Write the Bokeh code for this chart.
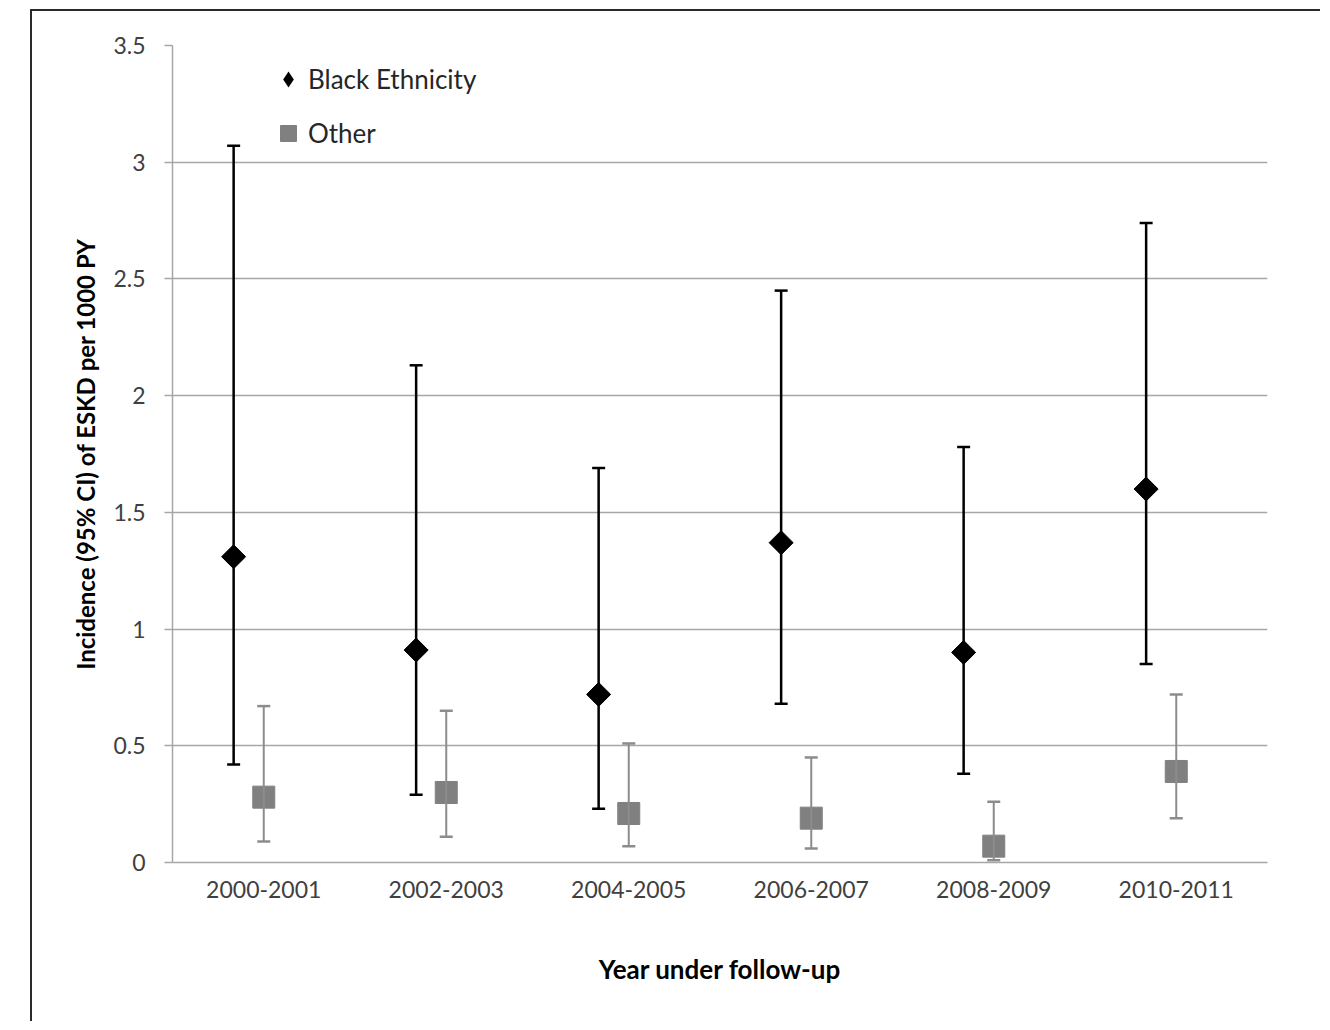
import math
from bokeh.plotting import figure
from bokeh.models import (ColumnDataSource, Whisker, TeeHead, Legend, LegendItem,
                          FactorRange, Range1d, Spacer, FixedTicker)
from bokeh.transform import dodge
from bokeh.layouts import row, column
from bokeh.embed import file_html
from bokeh.resources import INLINE

periods = ["2000-2001", "2002-2003", "2004-2005", "2006-2007", "2008-2009", "2010-2011"]
black_est = [1.31, 0.91, 0.72, 1.37, 0.90, 1.60]
black_lower = [0.42, 0.29, 0.23, 0.68, 0.38, 0.85]
black_upper = [3.07, 2.13, 1.69, 2.45, 1.78, 2.74]
other_est = [0.28, 0.30, 0.21, 0.19, 0.07, 0.39]
other_lower = [0.09, 0.11, 0.07, 0.06, 0.01, 0.19]
other_upper = [0.67, 0.65, 0.51, 0.45, 0.26, 0.72]
y_ticks = [0, 0.5, 1, 1.5, 2, 2.5, 3, 3.5]
y_tick_labels = ["0", "0.5", "1", "1.5", "2", "2.5", "3", "3.5"]

FONT = "Lato"
GRID = "#a6a6a6"
LABEL = "#404040"

src = ColumnDataSource(dict(period=periods,
                            b=black_est, bl=black_lower, bu=black_upper,
                            o=other_est, ol=other_lower, ou=other_upper))

p = figure(x_range=FactorRange(*periods, range_padding=0),
           y_range=Range1d(0, 3.5),
           width=1290, height=1012,
           output_backend="svg", toolbar_location=None,
           min_border_left=140, min_border_right=55,
           min_border_top=34, min_border_bottom=161)
p.styles = {"border-left": "2px solid #2a2a2a", "border-top": "2px solid #2a2a2a"}
p.outline_line_color = None
p.background_fill_color = "white"
p.border_fill_color = "white"

# grid
p.xgrid.grid_line_color = None
p.ygrid.grid_line_color = GRID
p.ygrid.grid_line_width = 1.5

# y axis
p.yaxis.ticker = FixedTicker(ticks=y_ticks)
p.yaxis.major_label_overrides = {t: l for t, l in zip(y_ticks, y_tick_labels)}
p.yaxis.axis_line_color = GRID
p.yaxis.axis_line_width = 1.5
p.yaxis.major_tick_line_color = GRID
p.yaxis.major_tick_line_width = 1.5
p.yaxis.major_tick_out = 8
p.yaxis.major_tick_in = 0
p.yaxis.minor_tick_line_color = None
p.yaxis.major_label_standoff = 19
p.yaxis.major_label_text_font = FONT
p.yaxis.major_label_text_font_size = "23px"
p.yaxis.major_label_text_color = LABEL
p.yaxis.axis_label = "Incidence (95% CI) of ESKD per 1000 PY"
p.yaxis.axis_label_text_font = FONT
p.yaxis.axis_label_text_font_size = "24px"
p.yaxis.axis_label_text_font_style = "bold"
p.yaxis.axis_label_text_color = "black"
p.yaxis.axis_label_standoff = 10

# x axis
p.xaxis.axis_line_color = GRID
p.xaxis.axis_line_width = 1.5
p.xaxis.major_tick_line_color = None
p.xaxis.major_tick_out = 0
p.xaxis.major_tick_in = 0
p.xaxis.minor_tick_line_color = None
p.xaxis.major_label_standoff = 18
p.xaxis.major_label_text_font = FONT
p.xaxis.major_label_text_font_size = "23px"
p.xaxis.major_label_text_color = LABEL
p.xaxis.axis_label = "Year under follow-up"
p.xaxis.axis_label_text_font = FONT
p.xaxis.axis_label_text_font_size = "26px"
p.xaxis.axis_label_text_font_style = "bold"
p.xaxis.axis_label_text_color = "black"
p.xaxis.axis_label_standoff = 52

BLACK_OFF = -0.165
OTHER_OFF = 0.0

wb = Whisker(source=src, base=dodge("period", BLACK_OFF, range=p.x_range),
             lower="bl", upper="bu", line_color="black", line_width=2.5,
             upper_head=TeeHead(size=13, line_color="black", line_width=2.5),
             lower_head=TeeHead(size=13, line_color="black", line_width=2.5),
             level="glyph")
wo = Whisker(source=src, base=dodge("period", OTHER_OFF, range=p.x_range),
             lower="ol", upper="ou", line_color="#8c8c8c", line_width=2,
             upper_head=TeeHead(size=13, line_color="#8c8c8c", line_width=2.5),
             lower_head=TeeHead(size=13, line_color="#8c8c8c", line_width=2.5),
             level="glyph")
p.add_layout(wb)
p.add_layout(wo)

# legend-key renderer for the black series (diamond shape, zero size in the plot)
rb_key = p.scatter(x=dodge("period", BLACK_OFF, range=p.x_range), y="b", source=src,
                   marker="diamond", size=0, line_width=0,
                   fill_color="black", line_color="black")
rb = p.scatter(x=dodge("period", BLACK_OFF, range=p.x_range), y="b", source=src,
               marker="square", size=17, angle=math.pi / 4,
               fill_color="black", line_color="black")
ro = p.scatter(x=dodge("period", OTHER_OFF, range=p.x_range), y="o", source=src,
               marker="square", size=22, fill_color="#808080", line_color="#808080")

legend = Legend(items=[LegendItem(label="Black Ethnicity", renderers=[rb_key]),
                       LegendItem(label="Other", renderers=[ro])],
                location=(96, 709), orientation="vertical",
                padding=0, margin=0, spacing=14,
                glyph_width=40, glyph_height=40, label_height=40,
                label_standoff=0,
                label_text_font=FONT, label_text_font_size="26px",
                label_text_color="#262626",
                background_fill_alpha=0, border_line_alpha=0)
p.add_layout(legend, "center")

layout = column(Spacer(width=10, height=9), row(Spacer(width=30, height=1012), p))
open("out.html", "w").write(file_html(layout, INLINE))
